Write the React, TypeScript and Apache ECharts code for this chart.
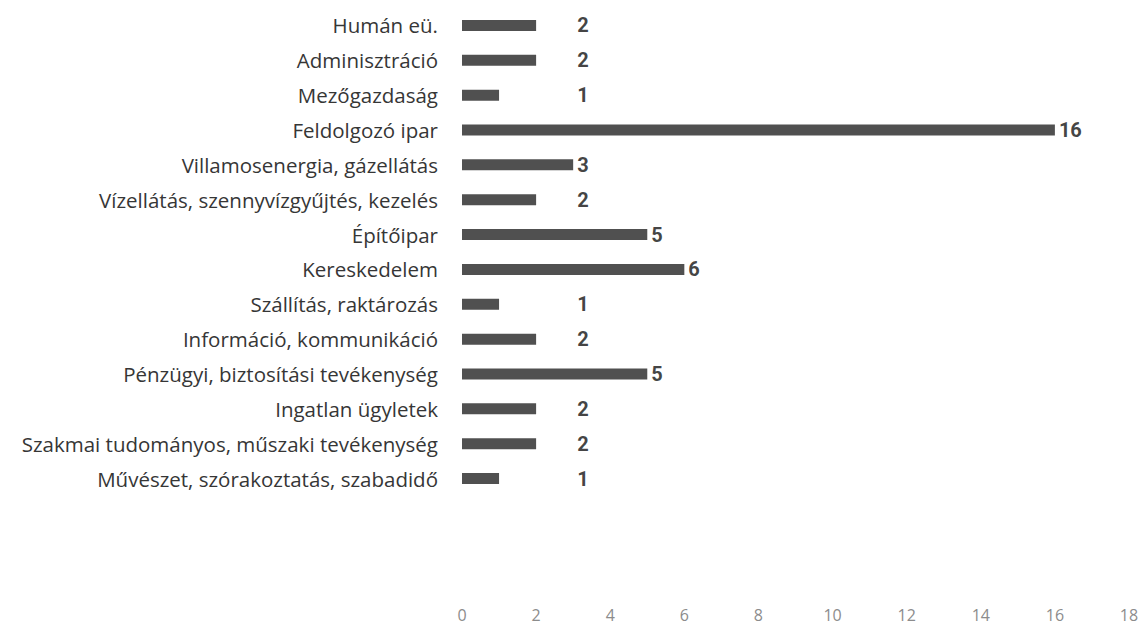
import React, { useEffect, useRef } from "react";
import * as echarts from "echarts";

const categories = [
  "Humán eü.",
  "Adminisztráció",
  "Mezőgazdaság",
  "Feldolgozó ipar",
  "Villamosenergia, gázellátás",
  "Vízellátás, szennyvízgyűjtés, kezelés",
  "Építőipar",
  "Kereskedelem",
  "Szállítás, raktározás",
  "Információ, kommunikáció",
  "Pénzügyi, biztosítási tevékenység",
  "Ingatlan ügyletek",
  "Szakmai tudományos, műszaki tevékenység",
  "Művészet, szórakoztatás, szabadidő",
];
const values = [2, 2, 1, 16, 3, 2, 5, 6, 1, 2, 5, 2, 2, 1];
const axisMax = 18;
const axisInterval = 2;
const labelMinAnchor = 3;

export default function App() {
  const ref = useRef<HTMLDivElement>(null);
  useEffect(() => {
    document.body.style.margin = "0";
    const chart = echarts.init(ref.current!, null, { renderer: "svg" });
    const font = "'Open Sans', 'Noto Sans', sans-serif";
    const numFont = "'Liberation Sans Narrow', 'Roboto', sans-serif";
    chart.setOption({
      animation: false,
      backgroundColor: "#ffffff",
      grid: { left: 462, right: 13, top: 8, bottom: 133, containLabel: false },
      xAxis: {
        type: "value",
        min: 0,
        max: axisMax,
        interval: axisInterval,
        axisLine: { show: false },
        axisTick: { show: false },
        splitLine: { show: false },
        axisLabel: { margin: 111, color: "#8c8c8c", fontSize: 16, fontFamily: font },
      },
      yAxis: {
        type: "category",
        data: categories,
        inverse: true,
        axisLine: { show: false },
        axisTick: { show: false },
        axisLabel: { margin: 24, color: "#363636", fontSize: 20.5, fontFamily: font },
      },
      series: [
        {
          type: "bar",
          data: values,
          barWidth: 11,
          itemStyle: { color: "#505050" },
          label: { show: false },
        },
        {
          type: "scatter",
          data: values.map((v, i) => [Math.max(v, labelMinAnchor), categories[i], v]),
          symbolSize: 0,
          silent: true,
          label: {
            show: true,
            position: "right",
            distance: 4,
            formatter: (p: any) => String(p.value[2]),
            color: "#111111",
            fontSize: 20,
            fontWeight: "bold",
            fontFamily: numFont,
          },
        },
      ],
    });
    return () => chart.dispose();
  }, []);
  return <div ref={ref} style={{ width: 1142, height: 629 }} />;
}
